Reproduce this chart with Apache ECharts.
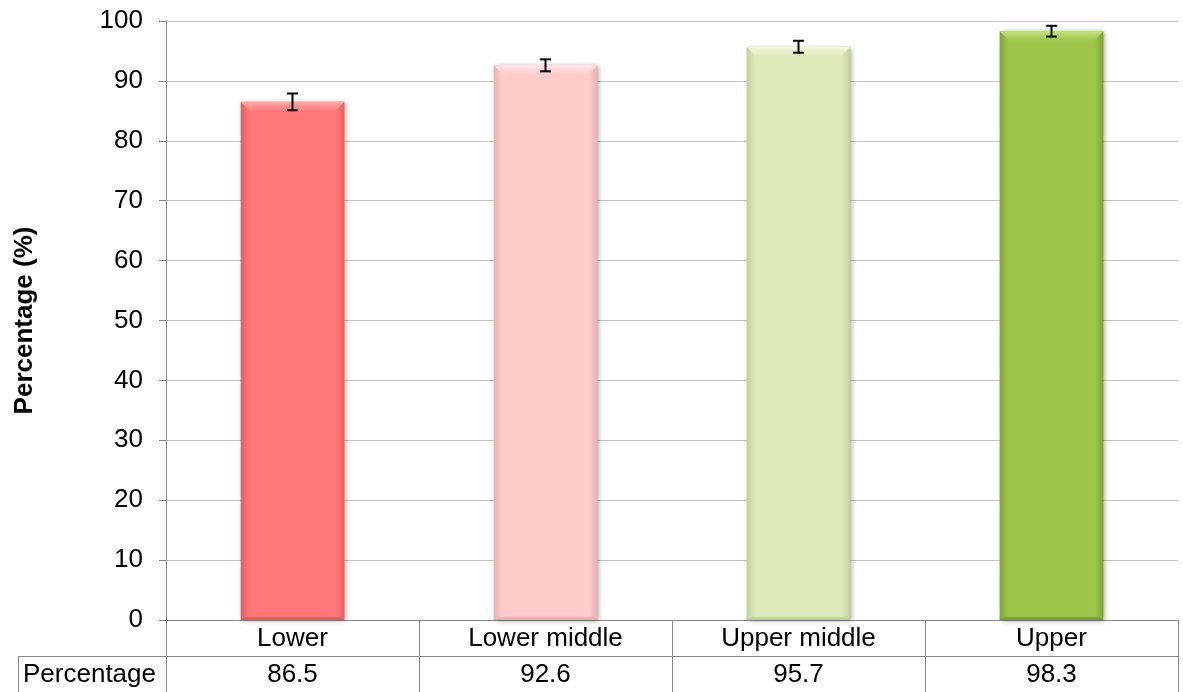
<!DOCTYPE html>
<html>
<head>
<meta charset="utf-8">
<script src="https://cdn.jsdelivr.net/npm/echarts@6/dist/echarts.min.js"></script>
<style>
	html, body { margin: 0; padding: 0; background: #fff; }
	#main { width: 1183px; height: 692px; }
</style>
</head>
<body>
<div id="main"></div>
<script>
var categories = ['Lower', 'Lower middle', 'Upper middle', 'Upper'];
var values = [86.5, 92.6, 95.7, 98.3];
var errors = [1.4, 1.0, 1.0, 0.9];
var yTicks = [0, 10, 20, 30, 40, 50, 60, 70, 80, 90, 100];
var rowName = 'Percentage';

// bar colours: [edge, centre, top bevel]
var barColors = [
	['#e25f5f', '#ff7878', '#ffa8a8'],
	['#e8b1b1', '#ffcbcb', '#ffe4e4'],
	['#c1d09d', '#dbeab8', '#f0f8dc'],
	['#7ca233', '#9cc54a', '#c2e27f']
];

var myChart = echarts.init(document.getElementById('main'));
var font = 'Liberation Sans, Arial, sans-serif';

function renderBar(params, api) {
	var i = api.value(0);
	var top = api.coord([i, api.value(1)]);
	var base = api.coord([i, 0]);
	var w = api.size([1, 0])[0] * 0.41;
	var x0 = top[0] - w / 2, x1 = top[0] + w / 2;
	var y0 = top[1], y1 = base[1];
	var c = barColors[i];
	var b = 10;
	return {
		type: 'group',
		children: [{
			type: 'rect',
			shape: { x: x0, y: y0, width: w, height: y1 - y0 },
			style: {
				fill: new echarts.graphic.LinearGradient(0, 0, 1, 0, [
					{ offset: 0, color: c[0] },
					{ offset: 0.08, color: c[1] },
					{ offset: 0.92, color: c[1] },
					{ offset: 1, color: c[0] }
				]),
				shadowBlur: 5,
				shadowColor: 'rgba(0,0,0,0.35)',
				shadowOffsetX: 2,
				shadowOffsetY: 1
			}
		}, {
			type: 'polygon',
			shape: { points: [[x0, y0], [x1, y0], [x1 - b, y0 + b], [x0 + b, y0 + b]] },
			style: {
				fill: new echarts.graphic.LinearGradient(0, 0, 0, 1, [
					{ offset: 0, color: c[2] },
					{ offset: 1, color: c[1] }
				])
			}
		}, {
			type: 'polygon',
			shape: { points: [[x0, y1], [x1, y1], [x1 - 3, y1 - 3], [x0 + 3, y1 - 3]] },
			style: { fill: c[0] }
		}]
	};
}

function renderError(params, api) {
	var lo = api.coord([api.value(0), api.value(1)]);
	var hi = api.coord([api.value(0), api.value(2)]);
	var w = 5.5;
	var st = { stroke: '#000', lineWidth: 2 };
	return {
		type: 'group',
		children: [
			{ type: 'line', shape: { x1: lo[0], y1: lo[1], x2: hi[0], y2: hi[1] }, style: st },
			{ type: 'line', shape: { x1: hi[0] - w, y1: hi[1], x2: hi[0] + w, y2: hi[1] }, style: st },
			{ type: 'line', shape: { x1: lo[0] - w, y1: lo[1], x2: lo[0] + w, y2: lo[1] }, style: st }
		]
	};
}

var option = {
	animation: false,
	textStyle: { fontFamily: font },
	grid: { left: 166, right: 5, top: 21, bottom: 72 },
	xAxis: [{
		type: 'category',
		data: categories,
		position: 'bottom',
		axisLine: { show: true, lineStyle: { color: '#868686', width: 1 } },
		axisTick: { show: true, length: 72, lineStyle: { color: '#868686' } },
		axisLabel: { color: '#000', fontSize: 26, margin: 6, fontFamily: font },
		splitLine: { show: false }
	}, {
		type: 'category',
		data: values.map(function(v) { return v.toFixed(1); }),
		position: 'bottom',
		offset: 36,
		axisLine: { show: false },
		axisTick: { show: false },
		axisLabel: { color: '#000', fontSize: 26, margin: 6, fontFamily: font }
	}],
	yAxis: {
		type: 'value',
		min: yTicks[0],
		max: yTicks[yTicks.length - 1],
		interval: 10,
		name: 'Percentage (%)',
		nameLocation: 'middle',
		nameGap: 128,
		nameTextStyle: { color: '#000', fontSize: 26, fontWeight: 'bold', fontFamily: font },
		axisLine: { show: true, lineStyle: { color: '#868686' } },
		axisTick: { show: true, length: 7, lineStyle: { color: '#868686' } },
		axisLabel: { color: '#000', fontSize: 26, margin: 23, fontFamily: font },
		splitLine: { show: true, lineStyle: { color: '#c4c4c4' } }
	},
	series: [{
		type: 'custom',
		z: 3,
		data: values.map(function(v, i) { return [i, v]; }),
		renderItem: renderBar
	}, {
		type: 'custom',
		z: 5,
		data: values.map(function(v, i) { return [i, v - errors[i], v + errors[i]]; }),
		renderItem: renderError
	}],
	graphic: [
		{ type: 'line', shape: { x1: 18, y1: 656.5, x2: 1178, y2: 656.5 }, style: { stroke: '#868686', lineWidth: 1 } },
		{ type: 'line', shape: { x1: 18.5, y1: 656, x2: 18.5, y2: 692 }, style: { stroke: '#868686', lineWidth: 1 } },
		{ type: 'text', x: 23, y: 675, style: { text: rowName, fill: '#000', font: '26px ' + font, verticalAlign: 'middle' } }
	]
};

myChart.setOption(option);
</script>
</body>
</html>
